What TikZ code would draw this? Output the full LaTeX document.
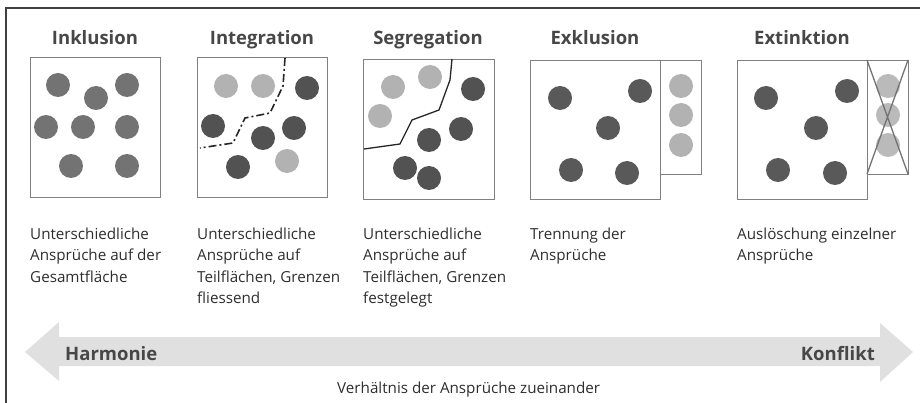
\documentclass[tikz,border=0pt]{standalone}
\usepackage{fontspec}
\setmainfont{Open Sans}
\tikzset{
  panel/.style={draw=black!50, line width=0.7pt, fill=white},
  desc/.style={anchor=north west, inner sep=0pt, align=left, text=black!82,
    font=\fontsize{15.2}{21.5}\selectfont},
  heading/.style={anchor=base, inner sep=0pt, text=black!72,
    font=\fontsize{18.5}{22}\selectfont\bfseries},
}
\begin{document}
\begin{tikzpicture}[x=1pt, y=-1pt]
  \useasboundingbox (0,0) rectangle (920,403);
  % Frame
  \draw[black!75, line width=1.2pt] (920,8) -- (6,8) -- (6,403);
  % Panels
  \draw[panel] (30,57) rectangle (160,197);
  \draw[panel] (197,57) rectangle (327,197);
  \draw[panel] (363,59) rectangle (494,199);
  \draw[panel] (530,60) rectangle (660,199);
  \draw[panel] (660,60) rectangle (701,174);
  \draw[panel] (737,60) rectangle (867,199);
  \draw[panel] (867,60) rectangle (908,174);
  % Headings
  \node[heading] (tInk) at (95,45) {Inklusion};
  \node[heading] (tInt) at (262,45) {Integration};
  \node[heading] (tSeg) at (428,45) {Segregation};
  \node[heading] (tExk) at (595,45) {Exklusion};
  \node[heading] (tExt) at (802,45) {Extinktion};
  % Inklusion
  \foreach \x/\y in {58/85, 127/85, 96/98, 46/127, 83/127, 127/127, 71/166, 127/166} {
    \fill[black!55] (\x,\y) circle[radius=12pt];
  }
  % Integration
  \foreach \x/\y in {226/86, 263/86, 287/161} {
    \fill[black!30] (\x,\y) circle[radius=12pt];
  }
  \foreach \x/\y in {307/88, 213/126, 263/138, 294/128, 238/167} {
    \fill[black!68] (\x,\y) circle[radius=12pt];
  }
  \draw[black!85, line width=1.6pt, dash pattern=on 8pt off 3pt on 2pt off 3pt]
    (285,58) -- (283,86) -- (270,113) -- (245,118) -- (233,143) -- (200,148);
  % Segregation
  \foreach \x/\y in {393/87, 430/77, 380/116} {
    \fill[black!30] (\x,\y) circle[radius=12pt];
  }
  \foreach \x/\y in {473/89, 461/129, 429/140, 405/168, 429/178} {
    \fill[black!68] (\x,\y) circle[radius=12pt];
  }
  \draw[black!85, line width=1.3pt]
    (452,59) -- (450,80) -- (439,110) -- (412,120) -- (400,144) -- (364,149);
  % Exklusion
  \foreach \x/\y in {560/98, 640/91, 608/128, 571/170, 627/173} {
    \fill[black!65] (\x,\y) circle[radius=12pt];
  }
  \foreach \y in {86, 115, 145} {
    \fill[black!30] (681,\y) circle[radius=12pt];
  }
  % Extinktion
  \foreach \x/\y in {766/98, 847/91, 816/128, 778/170, 835/173} {
    \fill[black!65] (\x,\y) circle[radius=12pt];
  }
  \foreach \y in {86, 115, 145} {
    \fill[black!27] (888,\y) circle[radius=12pt];
  }
  \draw[black!55, line width=1.3pt] (867,60) -- (908,174) (908,60) -- (867,174);
  % Descriptions
  \node[desc] (dInk) at (30,227.5) {Unterschiedliche\\Ansprüche auf der\\Gesamtfläche};
  \node[desc] (dInt) at (197,227.5) {Unterschiedliche\\Ansprüche auf\\Teilflächen, Grenzen\\fliessend};
  \node[desc] (dSeg) at (363,227.5) {Unterschiedliche\\Ansprüche auf\\Teilflächen, Grenzen\\festgelegt};
  \node[desc] (dExk) at (530,227.5) {Trennung der\\Ansprüche};
  \node[desc] (dExt) at (737,227.5) {Auslöschung einzelner\\Ansprüche};
  % Scale arrow
  \fill[black!12] (25,352) -- (59,322) -- (59,337) -- (880,337) -- (880,323) -- (913,352)
    -- (880,382) -- (880,366) -- (59,366) -- (59,381) -- cycle;
  \node[heading, anchor=base west] (harm) at (65,360) {Harmonie};
  \node[heading, anchor=base east] (konf) at (875,360) {Konflikt};
  \node[desc, anchor=base west] (axis) at (337,393) {Verhältnis der Ansprüche zueinander};
\end{tikzpicture}
\end{document}
